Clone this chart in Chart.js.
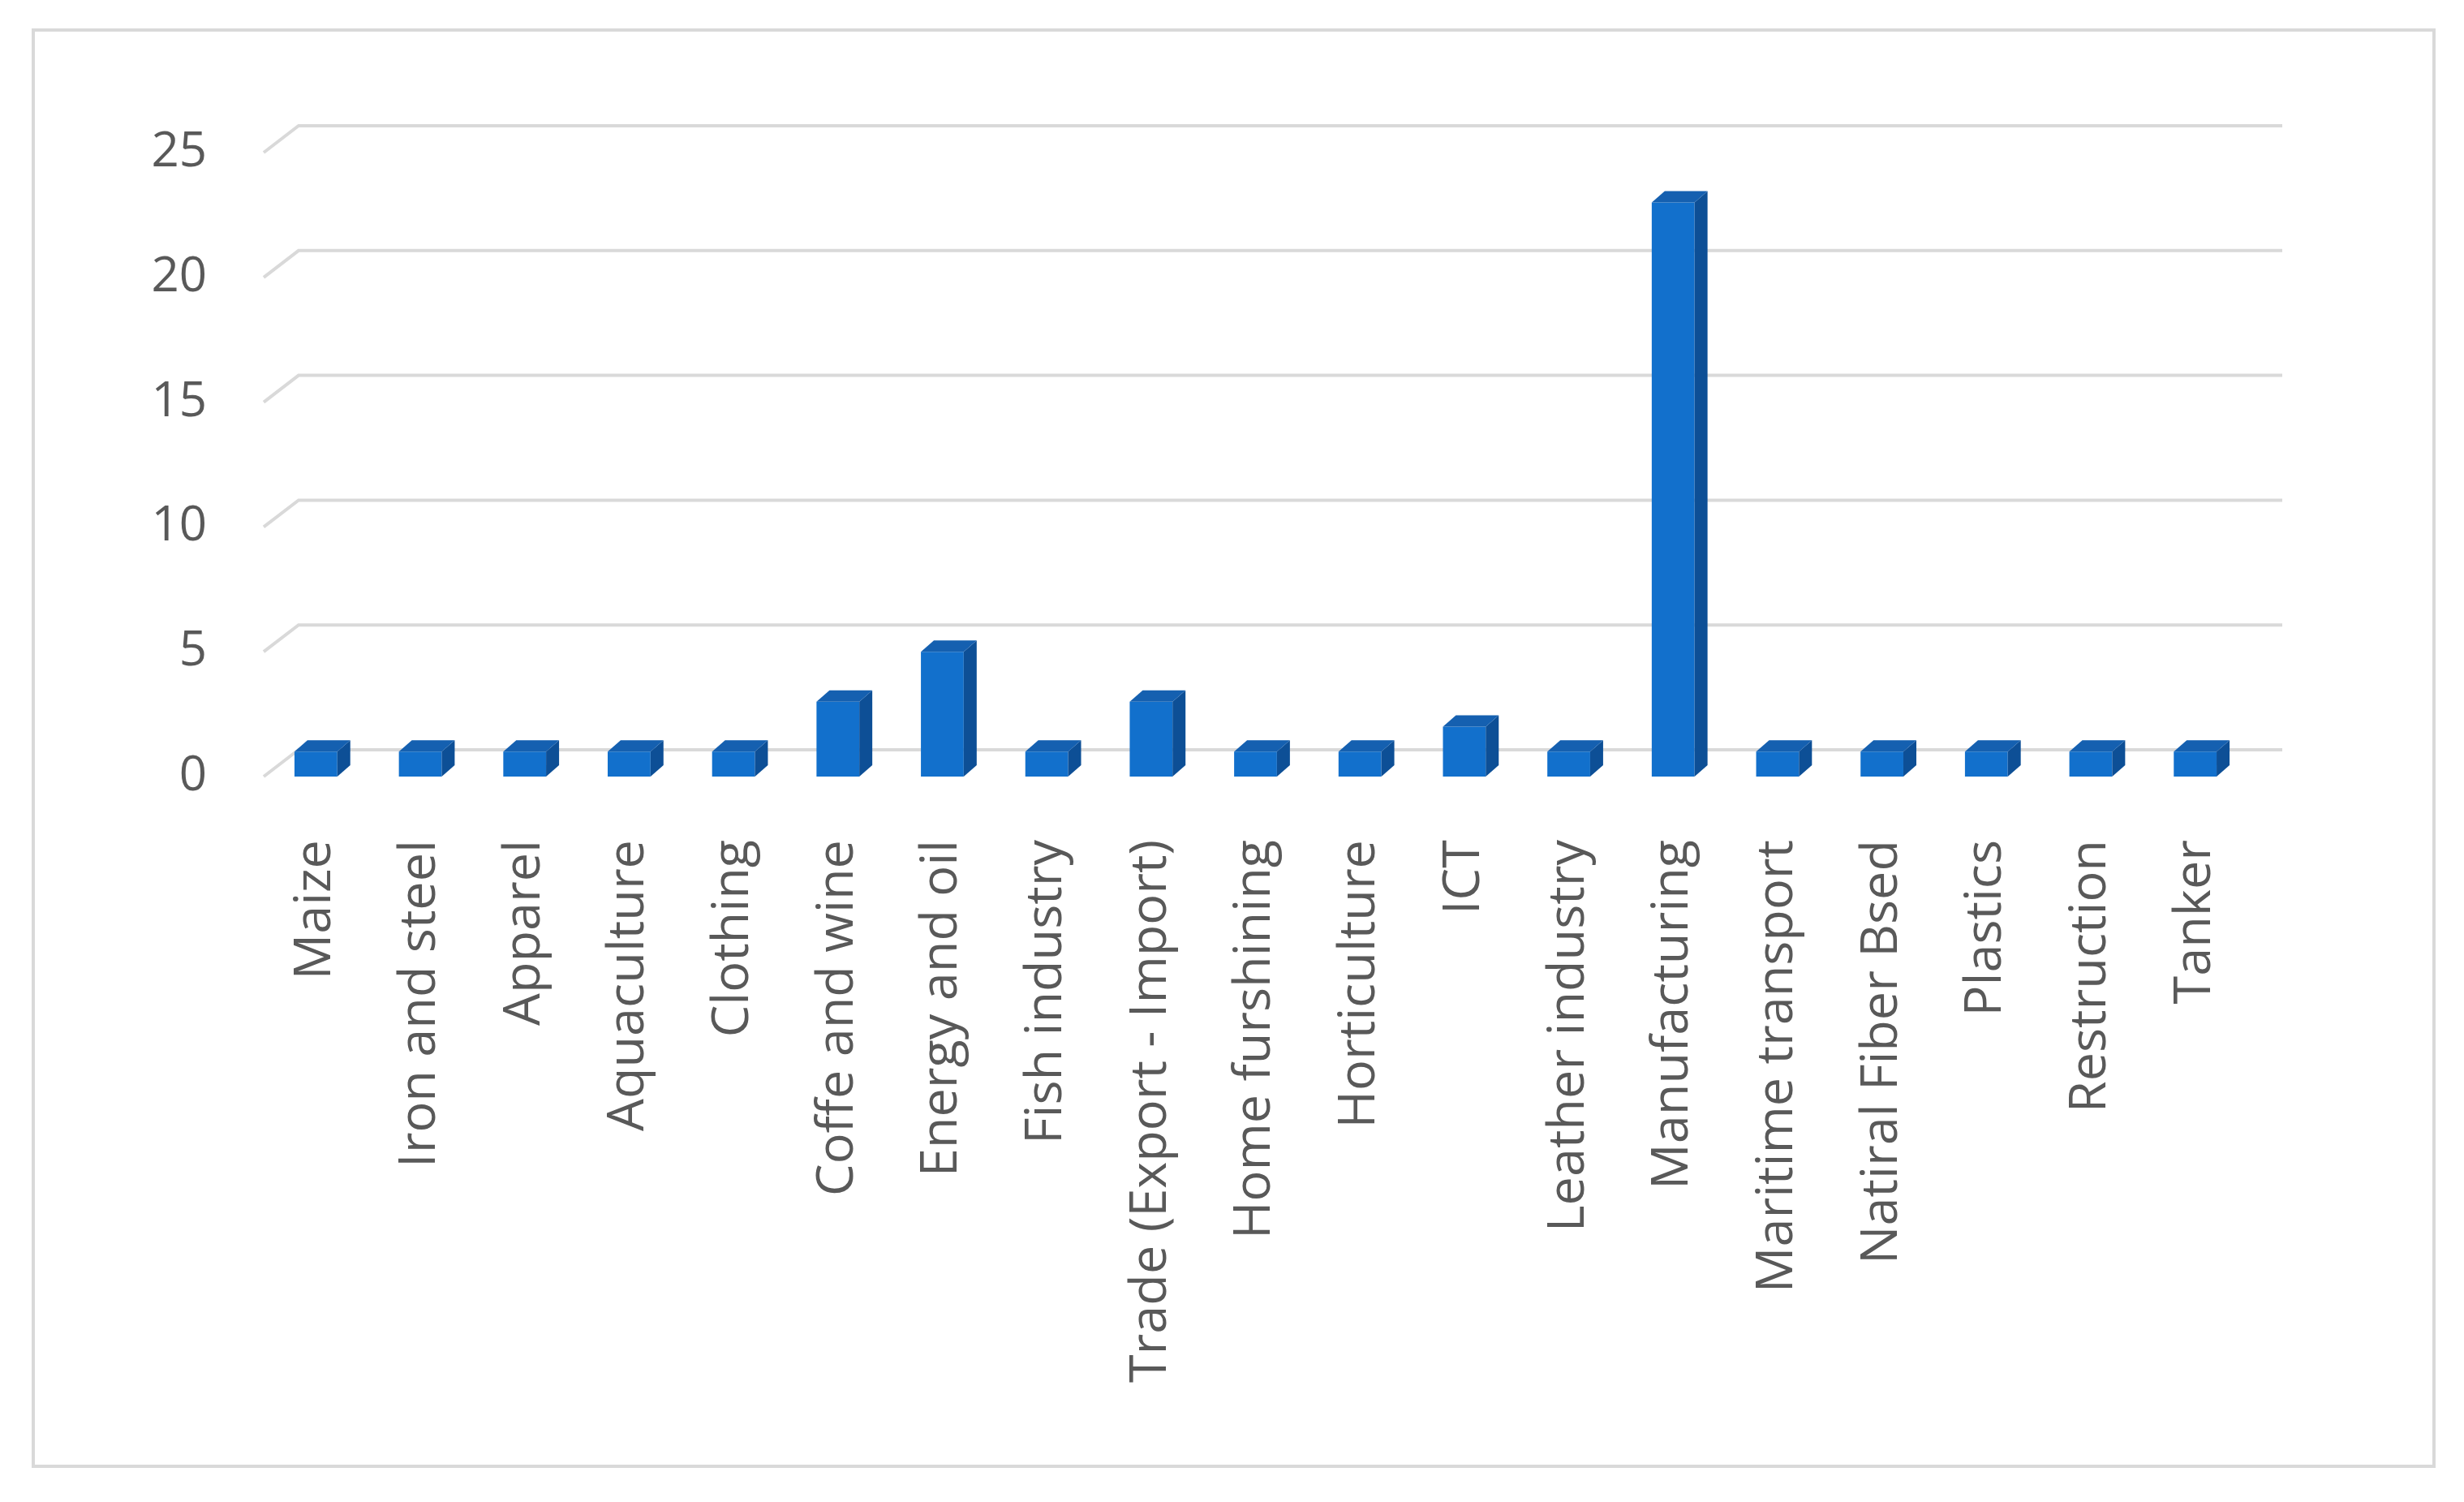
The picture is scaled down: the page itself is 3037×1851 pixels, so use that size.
<!DOCTYPE html>
<html>
<head>
<script src="https://cdn.jsdelivr.net/npm/chart.js@4"></script>
<style>
  body { margin: 0; background: #fff; }
  #frame { position: absolute; left: 39px; top: 35px; width: 2955px; height: 1766px; border: 4px solid #d9d9d9; }
  #wrap { position: absolute; left: 0; top: 0; width: 3037px; height: 1851px; }
</style>
</head>
<body>
<div id="frame"></div>
<div id="wrap"><canvas id="chart"></canvas></div>
<script>
const categories = ["Maize", "Iron and steel", "Apparel", "Aquaculture", "Clothing", "Coffe and wine",
  "Energy and oil", "Fish industry", "Trade (Export - Import)", "Home furshining", "Horticulture", "ICT",
  "Leather industry", "Manufacturing", "Maritime transport", "Natiral Fiber Bsed", "Plastics",
  "Restruction", "Tanker"];
const values = [1, 1, 1, 1, 1, 3, 5, 1, 3, 1, 1, 2, 1, 23, 1, 1, 1, 1, 1];
const yTicks = [0, 5, 10, 15, 20, 25];

const DX = 43, DY = -33;

// back-wall gridlines with a short diagonal to the front edge
const gridPlugin = {
  id: "grid3d",
  beforeDatasetsDraw(chart) {
    const { ctx, chartArea, scales } = chart;
    ctx.save();
    ctx.strokeStyle = "#d9d9d9";
    ctx.lineWidth = 4;
    yTicks.forEach(v => {
      const y = scales.y.getPixelForValue(v);
      ctx.beginPath();
      ctx.moveTo(chartArea.left, y);
      ctx.lineTo(chartArea.left + DX, y + DY);
      ctx.lineTo(chartArea.right + DX, y + DY);
      ctx.stroke();
    });
    ctx.restore();
  }
};

// top and side faces of each bar
const barPlugin = {
  id: "bars3d",
  afterDatasetsDraw(chart) {
    const ctx = chart.ctx;
    const bx = 16, by = -14;
    ctx.save();
    chart.getDatasetMeta(0).data.forEach(bar => {
      const l = bar.x - bar.width / 2, r = bar.x + bar.width / 2;
      const t = bar.y, b = bar.base;
      ctx.fillStyle = "#0d4f96";
      ctx.beginPath();
      ctx.moveTo(r, t); ctx.lineTo(r + bx, t + by); ctx.lineTo(r + bx, b + by); ctx.lineTo(r, b);
      ctx.closePath(); ctx.fill();
      ctx.fillStyle = "#1560b0";
      ctx.beginPath();
      ctx.moveTo(l, t); ctx.lineTo(l + bx, t + by); ctx.lineTo(r + bx, t + by); ctx.lineTo(r, t);
      ctx.closePath(); ctx.fill();
    });
    ctx.restore();
  }
};

new Chart(document.getElementById("chart"), {
  type: "bar",
  data: {
    labels: categories,
    datasets: [{
      data: values,
      backgroundColor: "#1270cc",
      categoryPercentage: 1,
      barPercentage: 0.41
    }]
  },
  options: {
    responsive: true,
    maintainAspectRatio: false,
    animation: false,
    layout: { padding: { left: 0, top: 188, right: 267, bottom: 0 } },
    plugins: { legend: { display: false }, tooltip: { enabled: false } },
    scales: {
      y: {
        min: 0, max: 25,
        afterBuildTicks: s => { s.ticks = yTicks.map(v => ({ value: v })); },
        afterFit: s => { s.width = 325; },
        grid: { display: false },
        border: { display: false },
        ticks: { color: "#595959", padding: 62, font: { family: "Open Sans", size: 60 } }
      },
      x: {
        afterFit: s => { s.height = 1851 - 957; },
        grid: { display: false },
        border: { display: false },
        ticks: { color: "#595959", padding: 70, minRotation: 90, maxRotation: 90, autoSkip: false,
          font: { family: "Open Sans", size: 63 } }
      }
    }
  },
  plugins: [gridPlugin, barPlugin]
});
</script>
</body>
</html>
